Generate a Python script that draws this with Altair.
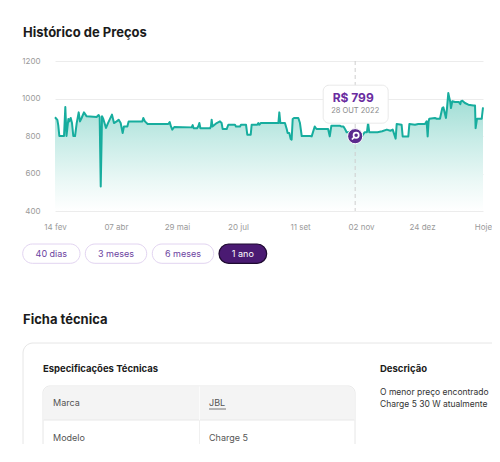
import altair as alt
import pandas as pd

# ---------------- data ----------------
days = [0, 2, 2.8, 3.7, 7.7, 8.8, 9.8, 11.4, 12.2, 13.4,
        14.5, 15.6, 17.1, 18.5, 20.2, 21.3, 22.7, 24.7, 27, 35.5,
        37.2, 38.1, 39, 40.1, 41.2, 43.5, 45.2, 48.6, 50.3, 52.6,
        54.3, 56, 57.7, 58.8, 61.7, 62.8, 74.5, 75.3, 76.7, 79,
        96.6, 97.8, 98.9, 100, 101.7, 116.5, 117.4, 118.2, 121.1, 122.2,
        123.1, 124, 132.2, 133, 133.6, 134.3, 137.9, 140.7, 142.1, 143,
        146.4, 147.8, 153.5, 154.3, 157.8, 158.6, 162.9, 164, 166.9, 167.7,
        172.5, 173.4, 174.2, 175.4, 190.5, 191.3, 192.2, 196.1, 197.6, 198.4,
        199.8, 201, 201.8, 202.7, 203.8, 207.5, 208.9, 210.4, 217.5, 218.9,
        221.5, 223, 232.9, 234.3, 235.7, 242.8, 244, 246, 247.3, 248.7,
        254.4, 255.8, 258, 262, 264, 266, 267, 268, 271, 275,
        279, 283, 286, 288, 290.5, 291.4, 295.6, 296.5, 301.3, 302.2,
        307, 309.8, 315.5, 316.9, 317.8, 318.6, 319.2, 324, 325.5, 328.3,
        330.3, 331.2, 333.4, 334.3, 335.4, 336.3, 337.1, 337.7, 338.8, 341.1,
        344.5, 345.7, 346.2, 347.4, 349.6, 352.5, 356.8, 358.2, 358.7, 359.9,
        363.9, 365]
prices = [900, 886, 857, 800, 800, 955, 800, 891, 878, 896,
          869, 800, 800, 869, 926, 878, 896, 926, 905, 901,
          912, 901, 531, 905, 891, 843, 869, 914, 869, 878,
          887, 869, 816, 851, 851, 878, 878, 896, 878, 864,
          864, 874, 851, 834, 848, 846, 858, 841, 841, 851,
          869, 841, 841, 851, 887, 851, 869, 878, 869, 837,
          837, 860, 860, 851, 851, 860, 860, 807, 807, 860,
          860, 869, 860, 869, 869, 926, 869, 869, 837, 816,
          816, 784, 780, 891, 896, 896, 869, 800, 800, 798,
          851, 837, 837, 798, 855, 855, 851, 851, 837, 820,
          820, 799, 800, 800, 820, 820, 870, 820, 820, 820,
          825, 834, 828, 834, 786, 864, 860, 798, 798, 864,
          860, 864, 864, 878, 798, 878, 892, 896, 892, 892,
          949, 953, 896, 949, 1029, 1003, 981, 949, 985, 981,
          981, 970, 985, 988, 976, 967, 963, 963, 842, 892,
          892, 953]
assert len(days) == len(prices)

tick_days = [0, 52, 104, 156, 209, 261, 313, 365]
tick_labels = ["14 fev", "07 abr", "29 mai", "20 jul", "11 set", "02 nov", "24 dez", "Hoje"]
y_ticks = [400, 600, 800, 1000, 1200]

tip_day = [256]
tip_price = [799]
tip_date = ["28 OUT 2022"]

buttons = ["40 dias", "3 meses", "6 meses", "1 ano"]
active_button = "1 ano"

spec_keys = ["Marca", "Modelo"]
spec_vals = ["JBL", "Charge 5"]
desc_lines = ["O menor preço encontrado", "Charge 5 30 W atualmente"]

# ---------------- styling / layout ----------------
FONT = "Inter"
TEAL = "#17ad9e"
PURPLE = "#5b2a8e"
W, H = 428, 150
X0, Y0 = 55, 61  # page position of plot origin


def px(x):
    return x - X0


def py(y):
    return y - Y0


one = pd.DataFrame({"k": [0]})


def box(x1, y1, x2, y2, **kw):
    return alt.Chart(one).mark_rect(**kw).encode(
        x=alt.value(px(x1)), x2=alt.value(px(x2)),
        y=alt.value(py(y1)), y2=alt.value(py(y2)))


def hline(x1, x2, y, color, w=1):
    return alt.Chart(one).mark_rule(color=color, strokeWidth=w).encode(
        x=alt.value(px(x1)), x2=alt.value(px(x2)), y=alt.value(py(y)))


def vline(x, y1, y2, color, w=1):
    return alt.Chart(one).mark_rule(color=color, strokeWidth=w).encode(
        x=alt.value(px(x)), y=alt.value(py(y1)), y2=alt.value(py(y2)))


def label(x, y, s, **kw):
    kw.setdefault("baseline", "middle")
    kw.setdefault("align", "left")
    return alt.Chart(one).mark_text(text=s, **kw).encode(
        x=alt.value(px(x)), y=alt.value(py(y)))


# ---------------- price chart ----------------
df = pd.DataFrame({"day": days, "price": prices})
df["base"] = min(y_ticks)  # area baseline = bottom of the y scale
tip = pd.DataFrame({"day": tip_day, "price": tip_price, "date": tip_date})
tip["label"] = ["R$ %d" % p for p in tip_price]
tip["top"] = max(y_ticks)
tip["bottom"] = min(y_ticks)

label_expr = "[" + ",".join("'%s'" % t for t in tick_labels) + "][indexof([" + \
    ",".join(str(d) for d in tick_days) + "], datum.value)]"

xscale = alt.Scale(domain=[0, 365], nice=False, zero=False)
yscale = alt.Scale(domain=[400, 1200], nice=False, zero=False)
xaxis = alt.Axis(values=tick_days, labelExpr=label_expr, grid=False, domain=False,
                 ticks=False, tickSize=0, labelFlush=False, labelOverlap=False,
                 labelPadding=12, labelFontSize=8, labelColor="#9a9a9a",
                 labelFont=FONT, title=None)
yaxis = alt.Axis(values=y_ticks, format="d", grid=True, gridColor="#ececec",
                 domain=False, ticks=False, tickSize=0, labelPadding=15,
                 labelFontSize=8, labelOverlap=False, labelFlush=False,
                 labelColor="#9a9a9a", labelFont=FONT, title=None)
X = alt.X("day:Q", scale=xscale, axis=xaxis)
Y = alt.Y("price:Q", scale=yscale, axis=yaxis)

area = alt.Chart(df).mark_area(
    clip=True,
    color=alt.Gradient(gradient="linear",
                       stops=[alt.GradientStop(color="#9cdcd3", offset=0),
                              alt.GradientStop(color="#c8ece7", offset=0.4),
                              alt.GradientStop(color="#ebf8f6", offset=0.75),
                              alt.GradientStop(color="#ffffff", offset=1)],
                       x1=0, x2=0, y1=0, y2=1),
).encode(x=X, y=Y, y2="base:Q")

line = alt.Chart(df).mark_line(color=TEAL, strokeWidth=2, strokeJoin="round").encode(
    x=X, y=Y)

# vertical dashed guide spanning the full y range at the highlighted day
dash = alt.Chart(tip).mark_rule(color="#cfcfcf", strokeDash=[4, 3], strokeWidth=1).encode(
    x=X, y=alt.Y("top:Q", scale=yscale, axis=yaxis), y2="bottom:Q")

tip_box = alt.Chart(tip).mark_rect(fill="white", stroke="#e9e9e9", strokeWidth=1, cornerRadius=6,
                                   xOffset=-32, x2Offset=33, yOffset=-51, y2Offset=-13).encode(
    x=X, x2="day:Q", y=Y, y2="price:Q")

tip_price_txt = alt.Chart(tip).mark_text(dx=-2, dy=-38, fontSize=12, fontWeight="bold",
                                         color="#6a2ca0", font=FONT).encode(
    x=X, y=Y, text="label:N")

tip_date_txt = alt.Chart(tip).mark_text(dy=-25, fontSize=7.5, color="#8a8a8a", font=FONT).encode(
    x=X, y=Y, text="date:N")

marker = alt.Chart(tip).mark_point(filled=True, size=230, fill=PURPLE, stroke="#ffffff",
                                   strokeWidth=1, opacity=1).encode(x=X, y=Y)

icon_path = ("M 0.75 -0.2 A 0.55 0.55 0 1 1 -0.35 -0.2 A 0.55 0.55 0 1 1 0.75 -0.2 Z "
             "M -0.2 0.2 L -0.7 0.7")
icon = alt.Chart(tip).mark_point(shape=icon_path, filled=False, stroke="#ffffff",
                                 strokeWidth=1.7, size=90, opacity=1).encode(x=X, y=Y)

layers = [area, dash, line, tip_box, tip_price_txt, tip_date_txt, marker, icon]

# ---------------- page decorations ----------------
layers.append(label(23, 33, "Histórico de Preços", fontSize=13, fontWeight="bold",
                    color="#1b1b1b", font=FONT))

btn_x = [(22.7, 80), (85.3, 146.7), (152.3, 213.7), (219, 266.7)]
for name, (a, b) in zip(buttons, btn_x):
    active = name == active_button
    layers.append(box(a, 244, b, 263.3, cornerRadius=10,
                      fill="#4a1a72" if active else "#ffffff",
                      stroke="#1e0a30" if active else "#e2d4f1",
                      strokeWidth=1.2 if active else 1))
    layers.append(label((a + b) / 2, 254, name, align="center", fontSize=9,
                        color="#ffffff" if active else "#6b3fa0", font=FONT))

layers.append(label(23, 319.5, "Ficha técnica", fontSize=13, fontWeight="bold",
                    color="#1b1b1b", font=FONT))

# card
layers.append(box(23, 343, 560, 560, cornerRadius=10, fill="#ffffff", stroke="#e6e6e6"))
layers.append(label(43, 369, "Especificações Técnicas", fontSize=9.5, fontWeight="bold",
                    color="#1b1b1b", font=FONT))
layers.append(label(380, 369, "Descrição", fontSize=9.5, fontWeight="bold",
                    color="#1b1b1b", font=FONT))
for i, s in enumerate(desc_lines):
    layers.append(label(380, 392 + i * 12, s, fontSize=8.5, color="#333333", font=FONT))

# table
layers.append(box(43, 386, 355, 560, cornerRadius=7, fill="#ffffff", stroke="#e6e6e6"))
layers.append(box(43.5, 386.5, 354.5, 420, cornerRadiusTopLeft=7, cornerRadiusTopRight=7,
                  fill="#f4f4f4"))
layers.append(box(43.5, 455, 354.5, 560, fill="#f4f4f4"))
layers.append(hline(43.5, 354.5, 420, "#e8e8e8"))
layers.append(hline(43.5, 354.5, 455, "#e8e8e8"))
layers.append(vline(199.5, 386.5, 420, "#fbfbfb"))
layers.append(vline(199.5, 420, 455, "#f0f0f0"))
row_y = [403, 438]
for k, v, yy in zip(spec_keys, spec_vals, row_y):
    layers.append(label(53, yy, k, fontSize=9, color="#555555", font=FONT))
    layers.append(label(209, yy, v, fontSize=9, color="#555555", font=FONT))
layers.append(hline(209, 226, 409, "#555555", 0.8))

chart = alt.layer(*layers).properties(
    width=W, height=H,
    autosize=alt.AutoSizeParams(type="none"),
    padding={"left": 47, "top": 53, "right": 9, "bottom": 233},
    background="#ffffff",
).configure(font=FONT).configure_view(stroke=None).configure_axis(labelOverlap=False)

chart.save("out.html", embed_options={"renderer": "svg", "actions": False})
